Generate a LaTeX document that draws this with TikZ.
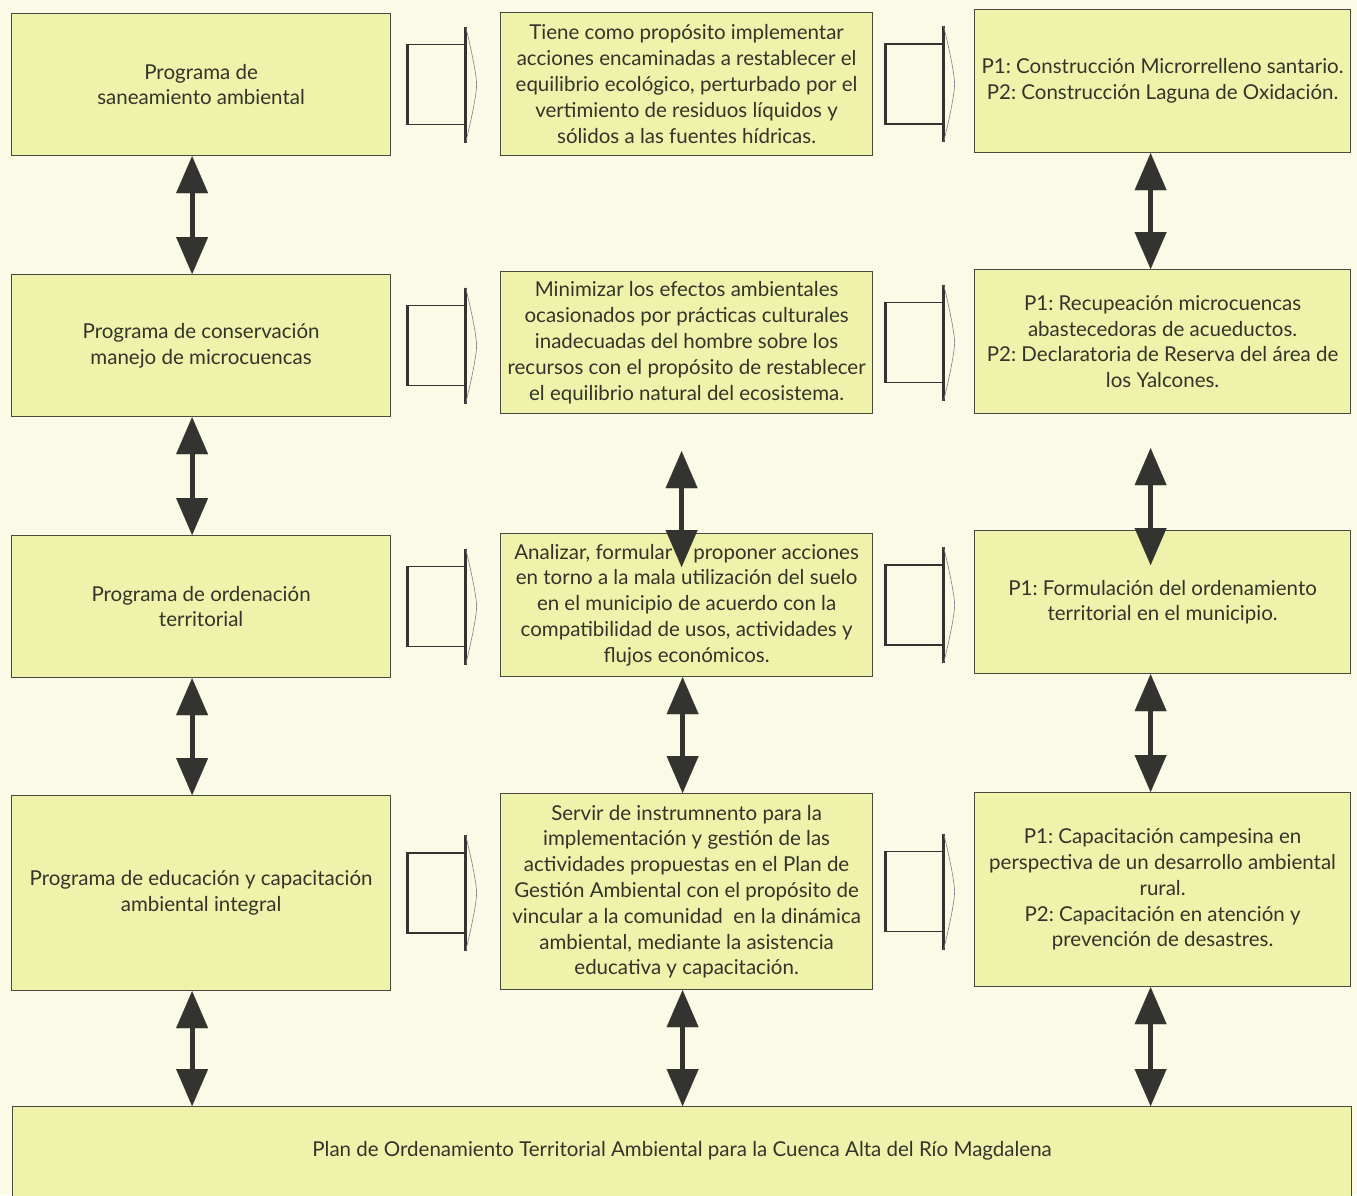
\documentclass[tikz,border=0pt]{standalone}
\usepackage{fontspec}
\setmainfont{Lato}
\frenchspacing
\usetikzlibrary{arrows.meta,calc}
\definecolor{bg}{HTML}{FAFAE6}
\definecolor{boxfill}{HTML}{EEF2AA}
\definecolor{ink}{HTML}{34342A}
\definecolor{edge}{HTML}{4A4A3C}
\definecolor{arr}{HTML}{333330}
\tikzset{
  box/.style={draw=edge, line width=1.2pt, fill=boxfill, rectangle, inner sep=0pt,
    anchor=north west, align=center, text=ink, font=\fontsize{20.5}{25.8}\selectfont},
  dbl/.style={draw=arr, line width=5pt,
    {Triangle[width=32pt,length=37pt,line width=0.1pt]}-{Triangle[width=32pt,length=37pt,line width=0.1pt]}},
  blockarrow/.pic={
    \draw[line width=1.7pt, draw=arr] (20,-40) -- (-38,-40);
    \draw[line width=1.7pt, draw=arr] (-38,40) -- (20,40);
    \draw[line width=2.6pt, draw=arr] (-38,-40.8) -- (-38,40.8);
    \draw[line width=2.6pt, draw=arr] (20,-58) -- (20,58);
    \draw[line width=0.6pt, draw=gray] (20,-58) .. controls (27,-30) and (31,-8) .. (31,0)
       .. controls (31,8) and (27,30) .. (20,58);
  }
}
\begin{document}
\begin{tikzpicture}[x=1pt, y=-1pt]
\clip (0,0) rectangle (1357,1195);
\fill[bg] (0,0) rectangle (1357,1195);

% left column
\node[box, minimum width=379pt, minimum height=142pt] (L1) at (11,13) {Programa de\\saneamiento ambiental};
\node[box, minimum width=379pt, minimum height=142pt] (L2) at (11,274) {Programa de conservación\\manejo de microcuencas};
\node[box, minimum width=379pt, minimum height=142pt] (L3) at (11,535) {Programa de ordenación\\territorial};
\node[box, minimum width=379pt, minimum height=195pt] (L4) at (11,795) {Programa de educación y capacitación\\ambiental integral};

% middle column
\node[box, minimum width=372pt, minimum height=143pt] (M1) at (500,12) {Tiene como propósito implementar\\acciones encaminadas a restablecer el\\equilibrio ecológico, perturbado por el\\vertimiento de residuos líquidos y\\sólidos a las fuentes hídricas.};
\node[box, minimum width=372pt, minimum height=142pt] (M2) at (500,271) {Minimizar los efectos ambientales\\ocasionados por prácticas culturales\\inadecuadas del hombre sobre los\\recursos con el propósito de restablecer\\el equilibrio natural del ecosistema.};
\node[box, minimum width=372pt, minimum height=143pt] (M3) at (500,533) {Analizar, formular y proponer acciones\\en torno a la mala utilización del suelo\\en el municipio de acuerdo con la\\compatibilidad de usos, actividades y\\flujos económicos.};
\node[box, minimum width=372pt, minimum height=196pt] (M4) at (500,793) {Servir de instrumnento para la\\implementación y gestión de las\\actividades propuestas en el Plan de\\Gestión Ambiental con el propósito de\\vincular a la comunidad\ \ en la dinámica\\ambiental, mediante la asistencia\\educativa y capacitación.};

% right column
\node[box, minimum width=376pt, minimum height=143pt] (R1) at (974,9) {P1: Construcción Microrrelleno santario.\\P2: Construcción Laguna de Oxidación.};
\node[box, minimum width=376pt, minimum height=144pt] (R2) at (974,269) {P1: Recupeación microcuencas\\abastecedoras de acueductos.\\P2: Declaratoria de Reserva del área de\\los Yalcones.};
\node[box, minimum width=376pt, minimum height=143pt] (R3) at (974,530) {P1: Formulación del ordenamiento\\territorial en el municipio.};
\node[box, minimum width=376pt, minimum height=194pt] (R4) at (974,792) {P1: Capacitación campesina en\\perspectiva de un desarrollo ambiental\\rural.\\P2: Capacitación en atención y\\prevención de desastres.};

% bottom box
\node[box, minimum width=1339pt, minimum height=100pt] (B) at (12,1106) {};
\node[text=ink, font=\fontsize{20.5}{25.8}\selectfont] (Btext) at ($(B.north)+(0,-45pt)$) {Plan de Ordenamiento Territorial Ambiental para la Cuenca Alta del Río Magdalena};

% block arrows
\foreach \a/\b in {L1/M1,L2/M2,L3/M3,L4/M4,M1/R1,M2/R2,M3/R3,M4/R4}{
  \pic at ($(\a.east)!0.5!(\a.east -| \b.west)$) {blockarrow};
}

% double arrows, left column
\draw[dbl] ([xshift=-9pt]L1.south) -- ([xshift=-9pt]L2.north);
\draw[dbl] ([xshift=-9pt]L2.south) -- ([xshift=-9pt]L3.north);
\draw[dbl] ([xshift=-9pt]L3.south) -- ([xshift=-9pt]L4.north);
\draw[dbl] ([xshift=-9pt]L4.south) -- ([xshift=-9pt]L4.south |- B.north);
% middle column
\draw[dbl] ([xshift=-5pt,yshift=-37pt]M2.south) -- ([xshift=-5pt,yshift=-34pt]M3.north);
\draw[dbl] ([xshift=-4pt]M3.south) -- ([xshift=-4pt]M4.north);
\draw[dbl] ([xshift=-4pt]M4.south) -- ([xshift=-4pt]M4.south |- B.north);
% right column
\draw[dbl] ([xshift=-12pt]R1.south) -- ([xshift=-12pt]R2.north);
\draw[dbl] ([xshift=-12pt,yshift=-34pt]R2.south) -- ([xshift=-12pt,yshift=-35pt]R3.north);
\draw[dbl] ([xshift=-12pt]R3.south) -- ([xshift=-12pt]R4.north);
\draw[dbl] ([xshift=-12pt]R4.south) -- ([xshift=-12pt]R4.south |- B.north);
\end{tikzpicture}
\end{document}
